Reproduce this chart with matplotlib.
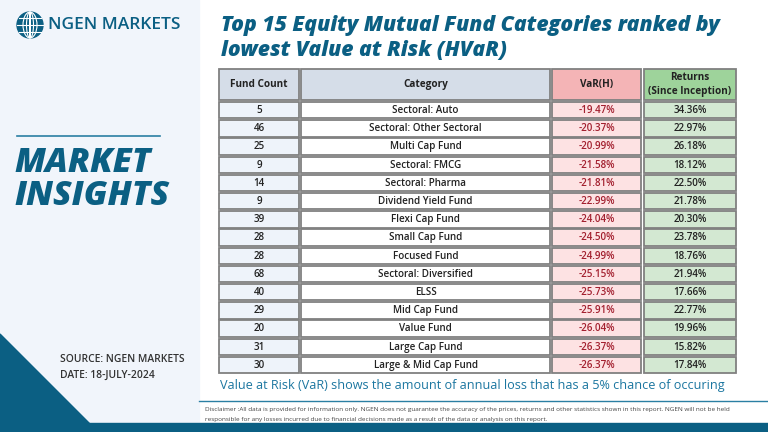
import matplotlib
matplotlib.use("Agg")
import matplotlib.pyplot as plt
from matplotlib.patches import Rectangle, Polygon, Circle, Ellipse

fund_counts = [5, 46, 25, 9, 14, 9, 39, 28, 28, 68, 40, 29, 20, 31, 30]
categories = ["Sectoral: Auto", "Sectoral: Other Sectoral", "Multi Cap Fund",
              "Sectoral: FMCG", "Sectoral: Pharma", "Dividend Yield Fund",
              "Flexi Cap Fund", "Small Cap Fund", "Focused Fund",
              "Sectoral: Diversified", "ELSS", "Mid Cap Fund", "Value Fund",
              "Large Cap Fund", "Large & Mid Cap Fund"]
var_h = [-19.47, -20.37, -20.99, -21.58, -21.81, -22.99, -24.04, -24.50,
         -24.99, -25.15, -25.73, -25.91, -26.04, -26.37, -26.37]
returns = [34.36, 22.97, 26.18, 18.12, 22.50, 21.78, 20.30, 23.78, 18.76,
           21.94, 17.66, 22.77, 19.96, 15.82, 17.84]
headers = ["Fund Count", "Category", "VaR(H)", "Returns\n(Since Inception)"]

TEAL = "#0b5f83"
W, H = 768, 432
fig = plt.figure(figsize=(W / 100, H / 100), dpi=100)
ax = fig.add_axes([0, 0, 1, 1])
ax.set_xlim(0, W)
ax.set_ylim(H, 0)
ax.axis("off")
fig.patch.set_facecolor("white")

FONT = "Open Sans"

# left panel
ax.add_patch(Rectangle((0, 0), 199, H, color="#f1f5fb", zorder=0))
ax.add_patch(Polygon([(0, 334), (90, 424), (0, 424)], closed=True, color=TEAL, zorder=1))
ax.add_patch(Rectangle((0, 423), W, 9, color=TEAL, zorder=1))
ax.plot([199, W], [401, 401], color="#2a7fa3", lw=1.0, zorder=1)

# logo
cx, cy, r = 30, 25, 13
ax.add_patch(Circle((cx, cy), r, color=TEAL, zorder=2))
for dy in (-7, 0, 7):
    half = (r**2 - dy**2) ** 0.5
    ax.plot([cx - half, cx + half], [cy + dy, cy + dy], color="white", lw=0.8, zorder=3)
for w in (7, 14, 0.1):
    ax.add_patch(Ellipse((cx, cy), w, 2 * r, fill=False, ec="white", lw=0.8, zorder=3))
ax.text(48, 25, "NGEN MARKETS", fontsize=12.5, color=TEAL, family=FONT,
        fontweight="semibold", va="center", ha="left")

# market insights
ax.plot([17, 160], [136, 136], color="#2a7fa3", lw=1.2)
ax.text(14, 163, "MARKET", fontsize=24.5, color=TEAL, family=FONT,
        fontweight="heavy", fontstyle="italic", va="center", ha="left")
ax.text(14, 196, "INSIGHTS", fontsize=24.5, color=TEAL, family=FONT,
        fontweight="heavy", fontstyle="italic", va="center", ha="left")

ax.text(60, 360, "SOURCE: NGEN MARKETS", fontsize=7.4, color="#333333", family=FONT,
        fontweight="semibold", va="center", ha="left")
ax.text(60, 375, "DATE: 18-JULY-2024", fontsize=7.4, color="#333333", family=FONT,
        fontweight="semibold", va="center", ha="left")

# title
ax.text(221, 25, "Top 15 Equity Mutual Fund Categories ranked by", fontsize=15.2,
        color=TEAL, family=FONT, fontweight="heavy", fontstyle="italic",
        va="center", ha="left")
ax.text(221, 51, "lowest Value at Risk (HVaR)", fontsize=15.2,
        color=TEAL, family=FONT, fontweight="heavy", fontstyle="italic",
        va="center", ha="left")

# table
col_edges = [(219, 299), (301, 550), (552, 641), (644, 736)]
head_colors = ["#d5dde8", "#d5dde8", "#f4b4b6", "#9ed39b"]
body_colors = ["#eef3fa", "#ffffff", "#fde2e3", "#d3e8d2"]
text_colors = ["#222222", "#222222", "#a3202f", "#222222"]
border = "#808080"
head_top, head_bot = 69, 100
row_top0, row_h, gap = 102, 18.2, 1.8

for (x0, x1), hc, lab in zip(col_edges, head_colors, headers):
    ax.add_patch(Rectangle((x0, head_top), x1 - x0, head_bot - head_top,
                           fc=hc, ec=border, lw=1.3, zorder=2))
    ax.text((x0 + x1) / 2, (head_top + head_bot) / 2, lab, fontsize=7.2,
            family=FONT, fontweight="bold", color="#222222",
            ha="center", va="center", linespacing=1.3, zorder=3)

for i in range(len(categories)):
    y0 = row_top0 + i * row_h
    vals = [str(fund_counts[i]), categories[i], f"{var_h[i]:.2f}%", f"{returns[i]:.2f}%"]
    for (x0, x1), bc, tc, v in zip(col_edges, body_colors, text_colors, vals):
        ax.add_patch(Rectangle((x0, y0), x1 - x0, row_h - gap,
                               fc=bc, ec=border, lw=1.3, zorder=2))
        ax.text((x0 + x1) / 2, y0 + (row_h - gap) / 2 + 0.3, v, fontsize=7.1,
                family=FONT, fontweight="semibold", color=tc,
                ha="center", va="center", zorder=3)

ax.text(220, 385, "Value at Risk (VaR) shows the amount of annual loss that has a 5% chance of occuring",
        fontsize=9.1, color="#1b76a0", family=FONT, va="center", ha="left")

ax.text(205, 410, "Disclaimer :All data is provided for information only. NGEN does not guarantee the accuracy of the prices, returns and other statistics shown in this report. NGEN will not be held",
        fontsize=4.55, color="#444444", family=FONT, va="center", ha="left")
ax.text(205, 419, "responsible for any losses incurred due to financial decisions made as a result of the data or analysis on this report.",
        fontsize=4.55, color="#444444", family=FONT, va="center", ha="left")

fig.savefig("out.png", dpi=100)
